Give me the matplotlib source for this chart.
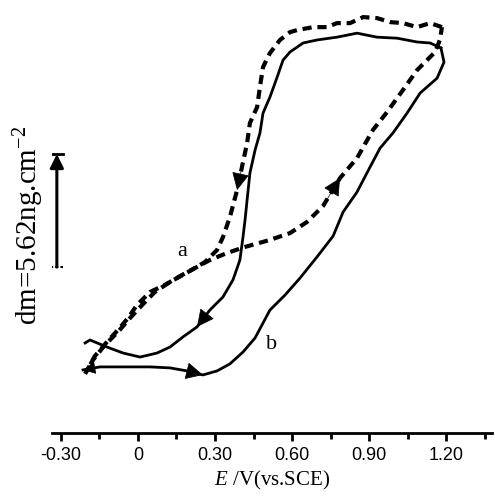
import matplotlib
matplotlib.use("Agg")
import matplotlib.pyplot as plt
from matplotlib.ticker import FixedLocator

plt.rcParams['font.family'] = ['Liberation Serif', 'DejaVu Serif']
plt.rcParams['mathtext.fontset'] = 'custom'
plt.rcParams['mathtext.rm'] = 'Liberation Serif'
plt.rcParams['mathtext.it'] = 'Liberation Serif:italic'

# curve b (solid) : anodic scan along the bottom, then back along the top / left
b_up_E = [-0.214, -0.148, -0.043, 0.047, 0.125, 0.191, 0.253, 0.308, 0.358, 0.409,
          0.456, 0.514, 0.573, 0.631, 0.697, 0.760, 0.799, 0.853, 0.904, 0.943,
          0.993, 1.048, 1.099, 1.165, 1.192, 1.180]
b_up_m = [0.50, 0.65, 0.65, 0.65, 0.60, 0.45, 0.25, 0.45, 0.80, 1.39,
          2.09, 3.48, 4.23, 5.07, 6.12, 7.16, 8.36, 9.35, 10.60, 11.54,
          12.29, 13.28, 14.28, 15.02, 15.82, 16.52]
b_down_E = [1.180, 1.138, 1.087, 1.009, 0.931, 0.853, 0.775, 0.697, 0.643, 0.592,
            0.565, 0.542, 0.514, 0.487, 0.475, 0.456, 0.436, 0.425, 0.417, 0.409,
            0.397, 0.370, 0.331, 0.280, 0.230, 0.175, 0.125, 0.074, 0.008, -0.058,
            -0.121, -0.187, -0.206]
b_down_m = [16.52, 16.77, 16.82, 17.01, 17.06, 17.26, 17.06, 16.92, 16.77, 16.32,
            15.92, 15.07, 14.08, 13.28, 12.29, 11.44, 10.30, 8.96, 7.96, 7.11,
            5.97, 4.98, 4.13, 3.48, 2.64, 2.14, 1.64, 1.34, 1.14, 1.34,
            1.64, 1.99, 1.84]

# curve a (dashed)
a_up_E = [-0.206, -0.168, -0.121, -0.078, -0.039, -0.004, 0.047, 0.105, 0.164, 0.222,
          0.280, 0.347, 0.417, 0.514, 0.592, 0.658, 0.721, 0.787, 0.853, 0.915,
          0.970, 1.032, 1.087, 1.126, 1.157, 1.176, 1.184]
a_up_m = [0.30, 1.19, 1.89, 2.49, 3.08, 3.73, 4.38, 4.73, 5.17, 5.57,
          5.97, 6.32, 6.62, 6.97, 7.31, 7.86, 8.66, 10.05, 11.04, 12.44,
          13.33, 14.43, 15.42, 15.92, 16.32, 16.92, 17.56]
a_down_E = [1.184, 1.138, 1.087, 1.032, 0.982, 0.931, 0.877, 0.826, 0.775, 0.736,
            0.682, 0.619, 0.592, 0.553, 0.514, 0.487, 0.475, 0.464, 0.436, 0.425,
            0.405, 0.386, 0.358, 0.331, 0.308, 0.261, 0.195, 0.125, 0.066, 0.016,
            -0.031, -0.078, -0.129, -0.175, -0.203]
a_down_m = [17.56, 17.76, 17.56, 17.76, 17.81, 18.01, 18.06, 17.76, 17.76, 17.56,
            17.56, 17.41, 17.31, 16.92, 16.27, 15.57, 14.58, 13.58, 12.79, 11.79,
            10.60, 9.45, 8.11, 7.11, 6.47, 5.87, 5.37, 4.88, 4.38, 3.73,
            3.08, 2.39, 1.74, 1.00, 0.40]

# scale bar
bar_E = -0.316
bar_m0 = 5.62
bar_dm = 5.62

ticks = [-0.30, 0, 0.30, 0.60, 0.90, 1.20]
tick_labels = ['-0.30', '0', '0.30', '0.60', '0.90', '1.20']
minor_ticks = [-0.15, 0.15, 0.45, 0.75, 1.05, 1.35]


def head(ax, xs, ys, i, j, size=28):
    ax.annotate('', xy=(xs[j], ys[j]), xytext=(xs[i], ys[i]),
                arrowprops=dict(arrowstyle='-|>', mutation_scale=size, color='k',
                                lw=0.5, shrinkA=0, shrinkB=0))


fig = plt.figure(figsize=(4.95, 4.96), dpi=100)
ax = fig.add_axes([0.105, 0.127, 0.889, 0.873])

ax.plot(b_up_E, b_up_m, color='k', lw=2.0)
ax.plot(b_down_E, b_down_m, color='k', lw=2.0)
ax.plot(a_up_E, a_up_m, color='k', lw=3.0, linestyle=(0, (2.2, 1.4)))
ax.plot(a_down_E, a_down_m, color='k', lw=3.0, linestyle=(0, (2.2, 1.4)))

head(ax, a_up_E, a_up_m, 16, 17)
head(ax, a_down_E, a_down_m, 20, 21)
head(ax, b_down_E, b_down_m, 23, 24)
head(ax, b_up_E, b_up_m, 5, 6)
head(ax, b_up_E, b_up_m, 1, 0, size=20)

# scale bar
ax.annotate('', xy=(bar_E, bar_m0 + bar_dm), xytext=(bar_E, bar_m0),
            arrowprops=dict(arrowstyle='-|>', mutation_scale=20, color='k',
                            lw=2.2, shrinkA=0, shrinkB=0))
ax.plot([bar_E - 0.025, bar_E + 0.025], [bar_m0 + bar_dm] * 2, color='k', lw=2)
ax.plot([bar_E - 0.025, bar_E + 0.025], [bar_m0] * 2, color='k', lw=1.5,
        linestyle=(0, (1.5, 1)))
fig.text(0.058, 0.545, 'dm=5.62ng.cm$^{-2}$', rotation=90, fontsize=21,
         ha='center', va='center')

ax.text(0.171, 6.37, 'a', fontsize=16, ha='center', va='center')
ax.text(0.522, 1.74, 'b', fontsize=16, ha='center', va='center')

ax.set_xlim(-0.335, 1.379)
ax.set_ylim(-2.64, 18.91)
for s in ['left', 'right', 'top']:
    ax.spines[s].set_visible(False)
ax.spines['bottom'].set_linewidth(2)
ax.set_yticks([])
ax.set_xticks(ticks)
ax.set_xticklabels(tick_labels, fontfamily='Liberation Sans', fontsize=13)
ax.xaxis.set_minor_locator(FixedLocator(minor_ticks))
ax.tick_params(axis='x', which='major', direction='out', length=6, width=2, pad=4)
ax.tick_params(axis='x', which='minor', direction='out', length=4, width=2)
ax.set_xlabel('$\\mathit{E}$ /V(vs.SCE)', fontsize=15, labelpad=4)

fig.savefig('out.png', dpi=100)
